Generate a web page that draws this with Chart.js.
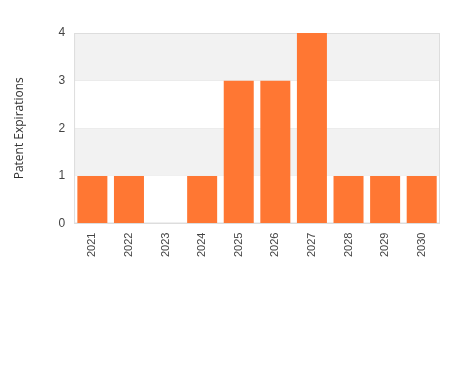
<!DOCTYPE html>
<html>
<head>
<meta charset="utf-8">
<script src="https://cdn.jsdelivr.net/npm/chart.js"></script>
<style>
  html, body { margin: 0; padding: 0; background: #fff; }
  #wrap { width: 450px; height: 375px; }
</style>
</head>
<body>
<div id="wrap"><canvas id="chart"></canvas></div>
<script>
var years = ['2021', '2022', '2023', '2024', '2025', '2026', '2027', '2028', '2029', '2030'];
var expirations = [1, 1, 0, 1, 3, 3, 4, 1, 1, 1];
var yTicks = [0, 1, 2, 3, 4];

// Alternating horizontal bands behind the bars
var bandPlugin = {
    id: 'bands',
    beforeDatasetsDraw: function (chart) {
        var ctx = chart.ctx;
        var area = chart.chartArea;
        var y = chart.scales.y;
        ctx.save();
        for (var i = 0; i < yTicks.length - 1; i++) {
            if (i % 2 === 1) {
                var top = y.getPixelForValue(yTicks[i + 1]);
                var bottom = y.getPixelForValue(yTicks[i]);
                ctx.fillStyle = '#f2f2f2';
                ctx.fillRect(area.left, top, area.right - area.left, bottom - top);
            }
        }
        ctx.strokeStyle = '#dddddd';
        ctx.lineWidth = 1;
        ctx.strokeRect(area.left + 0.5, area.top + 0.5, area.right - area.left - 1, area.bottom - area.top - 1);
        ctx.restore();
    }
};

var ctx = document.getElementById('chart').getContext('2d');
new Chart(ctx, {
    type: 'bar',
    data: {
        labels: years,
        datasets: [{
            data: expirations,
            backgroundColor: '#ff7733',
            barPercentage: 0.82,
            categoryPercentage: 1.0
        }]
    },
    options: {
        responsive: true,
        maintainAspectRatio: false,
        animation: false,
        layout: { padding: { top: 33, right: 10, bottom: 109, left: 8 } },
        plugins: {
            legend: { display: false },
            tooltip: { enabled: false }
        },
        scales: {
            x: {
                grid: { display: false, drawTicks: false },
                border: { display: false },
                ticks: {
                    color: '#444',
                    font: { family: 'Liberation Sans', size: 11 },
                    maxRotation: 90,
                    minRotation: 90,
                    padding: 9
                }
            },
            y: {
                min: 0,
                max: 4,
                grid: { color: '#dddddd', drawTicks: false },
                border: { display: false },
                ticks: {
                    stepSize: 1,
                    color: '#444',
                    font: { family: 'Liberation Sans', size: 12 },
                    padding: 9
                },
                title: {
                    display: true,
                    text: 'Patent Expirations',
                    color: '#333',
                    font: { family: 'Open Sans', size: 12 },
                    padding: { top: 4, bottom: 23 }
                }
            }
        }
    },
    plugins: [bandPlugin]
});
</script>
</body>
</html>
